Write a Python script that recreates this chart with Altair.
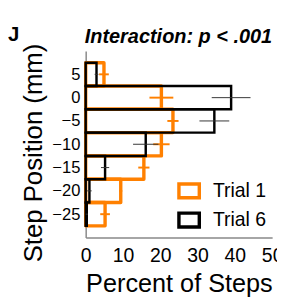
import altair as alt
import pandas as pd

# ---- data ----
positions = [5, 0, -5, -10, -15, -20, -25]          # step position (mm), bin centres
trial_names = ["Trial 1", "Trial 6"]
trial1_pct = [4.9, 20.3, 23.4, 20.3, 15.6, 9.4, 5.2]
trial1_sem = [1.3, 3.2, 1.5, 2.2, 1.5, 0.4, 1.3]
trial6_pct = [2.9, 39.0, 34.5, 16.1, 5.2, 1.0, 0.3]
trial6_sem = [0.5, 5.2, 4.0, 3.4, 1.1, 0.6, 0.3]
x_ticks = [0, 10, 20, 30, 40, 50]
y_ticks = [5, 0, -5, -10, -15, -20, -25]
bin_width = 5
panel_letter = ["J"]
title_text = ["Interaction: p < .001"]

rows = []
for name, pcts, sems in [("Trial 1", trial1_pct, trial1_sem),
                         ("Trial 6", trial6_pct, trial6_sem)]:
    for p, v, s in zip(positions, pcts, sems):
        rows.append({"trial": name, "pos": p, "pct": v, "sem": s})
df = pd.DataFrame(rows)

FONT = "Liberation Sans"
ORANGE = "#FF8000"
half = bin_width / 2

x_scale = alt.Scale(domain=[0, 50], nice=False, zero=True)
y_scale = alt.Scale(domain=[-30, 10], nice=False, zero=False)

x_axis = alt.Axis(values=x_ticks, title="Percent of Steps", grid=False, ticks=False, tickSize=0,
                  domainColor="#888888", domainWidth=1.5, labelFontSize=20, labelFont=FONT,
                  labelColor="black", labelPadding=9, labelFlush=False, labelOverlap=False,
                  titleFontSize=26, titleFont=FONT, titleFontWeight="normal", titleColor="black",
                  titleX=96, titleY=56, titleAlign="center", titleBaseline="alphabetic")
y_axis = alt.Axis(values=y_ticks, title="Step Position (mm)", grid=False, ticks=False, tickSize=0,
                  domainColor="#888888", domainWidth=1.5, labelFontSize=17, labelFont=FONT,
                  labelColor="black", labelPadding=6, labelOverlap=False, labelFlush=False,
                  titleFontSize=26.5, titleFont=FONT, titleFontWeight="normal", titleColor="black",
                  titleX=-45, titleY=104.5, titleAngle=270, titleAlign="center",
                  titleBaseline="alphabetic")

legend = alt.Legend(title=None, orient="none", legendX=94, legendY=131.5,
                    symbolType="M-1,-0.68L1,-0.68L1,0.68L-1,0.68Z", symbolSize=440,
                    symbolStrokeWidth=3.5, labelFontSize=20, labelFont=FONT, labelColor="black",
                    labelOffset=12, rowPadding=1, padding=0)

color = alt.Color("trial:N", scale=alt.Scale(domain=trial_names, range=[ORANGE, "black"]),
                  legend=legend)

base = alt.Chart(df).transform_calculate(
    lo=f"datum.pos - {half}", hi=f"datum.pos + {half}", zero="0",
    elo="datum.pct - datum.sem", ehi="datum.pct + datum.sem")


def bars(name, sw, join):
    return base.transform_filter(f"datum.trial == '{name}'").mark_rect(
        filled=False, strokeWidth=sw, strokeJoin=join).encode(
        x=alt.X("zero:Q", scale=x_scale, axis=x_axis),
        x2="pct:Q",
        y=alt.Y("lo:Q", scale=y_scale, axis=y_axis),
        y2="hi:Q",
        color=color)


def errs(name, col, sw):
    return base.transform_filter(f"datum.trial == '{name}'").mark_rule(
        color=col, strokeWidth=sw).encode(
        x=alt.X("elo:Q", scale=x_scale, axis=x_axis),
        x2="ehi:Q",
        y=alt.Y("pos:Q", scale=y_scale, axis=y_axis))


letter = alt.Chart(pd.DataFrame({"label": panel_letter})).mark_text(
    font=FONT, fontSize=21, fontWeight="bold", align="left", baseline="alphabetic",
    color="black").encode(x=alt.value(-80), y=alt.value(-10), text="label:N")

title_mark = alt.Chart(pd.DataFrame({"label": title_text})).mark_text(
    font=FONT, fontSize=20.5, fontWeight="bold", fontStyle="italic", align="center",
    baseline="alphabetic", color="black").encode(
    x=alt.value(95.5), y=alt.value(-8), text="label:N")

chart = alt.layer(
    bars("Trial 1", 3.5, "round"),
    bars("Trial 6", 2.5, "miter"),
    errs("Trial 1", ORANGE, 2),
    errs("Trial 6", "#333333", 1),
    letter,
    title_mark,
).properties(
    width=192, height=192,
    padding={"left": 80, "top": 40, "right": 5, "bottom": 58},
    autosize=alt.AutoSizeParams(type="none"),
).configure_view(stroke=None)

chart.save("out.html", embed_options={"renderer": "svg", "actions": False})
